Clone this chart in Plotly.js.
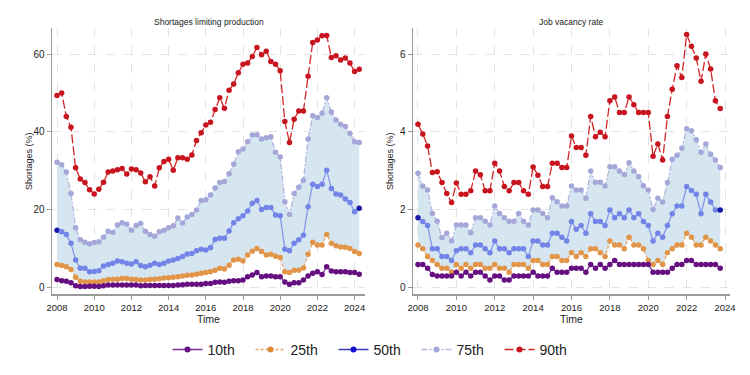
<!DOCTYPE html>
<html>
<head>
<meta charset="utf-8">
<script src="https://cdn.plot.ly/plotly-3.0.1.min.js"></script>
<style>html,body{margin:0;padding:0;background:#fff}#chart{width:750px;height:375px}</style>
</head>
<body>
<div id="chart"></div>
<script>
// ---------- Data (quarterly, values in %) ----------
const panelTitles = ["Shortages limiting production", "Job vacancy rate"];
const legendNames = ["10th", "25th", "50th", "75th", "90th"];
const xTickVals = [2008, 2010, 2012, 2014, 2016, 2018, 2020, 2022, 2024];
const yTickValsL = [0, 20, 40, 60];
const yTickValsR = [0, 2, 4, 6];
const startYear = 2008;

// Left panel: Shortages limiting production, 2008Q1 - 2024Q2
const p10L = [2.1,1.8,1.7,1.3,0.5,0.3,0.3,0.4,0.4,0.3,0.5,0.7,0.7,0.7,0.7,0.7,0.7,0.7,0.5,0.6,0.6,0.6,0.6,0.6,0.6,0.6,0.7,0.8,0.9,0.9,0.9,0.9,1.1,1.1,1.4,1.5,1.4,1.7,1.8,1.8,2.0,2.8,3.3,3.9,2.8,3.0,3.0,2.8,2.8,1.5,0.9,1.3,1.3,2.0,3.0,3.7,4.1,3.4,5.4,4.3,4.1,4.1,4.1,3.9,3.9,3.5];
const p25L = [6.0,5.7,5.4,4.7,2.7,1.7,1.5,1.5,1.5,1.5,1.8,2.1,2.2,2.2,2.4,2.4,2.2,2.1,2.0,2.0,2.1,2.2,2.3,2.5,2.6,2.7,2.8,3.0,3.2,3.3,3.5,3.7,3.9,4.1,4.5,5.0,4.8,5.8,7.1,7.3,6.9,8.4,9.4,10.1,9.3,8.4,8.6,8.1,7.8,4.1,3.9,4.5,4.5,5.1,8.6,11.7,11.0,11.0,13.7,11.4,10.8,10.5,10.4,10.1,9.3,8.8];
const p50L = [14.8,14.4,13.7,11.4,7.1,5.0,5.0,4.1,4.2,4.4,5.6,6.0,6.3,6.9,6.7,6.3,6.1,6.7,5.7,5.4,5.8,6.3,6.0,6.3,6.9,7.1,7.5,8.0,8.7,8.8,9.5,9.9,9.7,10.3,12.4,12.7,12.7,14.6,16.7,17.7,18.5,19.7,21.7,22.4,20.1,20.6,20.6,18.7,18.5,9.9,9.5,11.4,12.3,13.5,20.8,26.6,26.0,26.6,30.2,25.5,24.1,23.8,22.8,21.9,19.5,20.4];
const p75L = [32.2,31.6,29.7,24.2,15.4,12.3,11.7,11.3,11.6,11.8,13.0,14.5,14.2,16.1,16.7,16.3,14.8,16.0,16.5,14.5,13.7,13.2,14.4,14.8,15.4,15.9,17.9,16.6,18.2,18.8,20.0,22.4,22.6,23.8,25.6,27.0,27.3,29.3,31.7,34.9,35.6,37.5,39.2,39.3,38.2,38.5,38.8,34.8,33.6,22.1,18.8,24.2,25.8,27.6,38.2,44.2,43.7,44.8,48.8,45.1,43.1,42.0,41.4,39.7,37.5,37.3];
const p90L = [49.4,50.0,44.0,41.2,30.8,27.9,27.0,25.2,24.1,25.3,27.1,29.7,30.0,30.3,30.6,29.2,30.5,30.3,29.5,27.2,28.5,26.1,30.8,32.4,33.0,30.2,33.4,33.4,33.0,34.1,37.8,39.8,41.8,42.5,45.8,48.8,46.1,50.7,52.3,55.2,57.4,57.7,59.4,61.7,59.8,60.7,58.1,57.4,55.7,42.7,37.3,43.3,45.4,45.4,54.3,63.0,63.6,64.7,64.8,59.1,59.6,58.5,59.0,57.7,55.5,56.1];

// Right panel: Job vacancy rate, 2008Q1 - 2023Q4
const p10R = [0.6,0.6,0.5,0.34,0.3,0.3,0.3,0.3,0.4,0.3,0.4,0.3,0.4,0.4,0.3,0.2,0.3,0.3,0.2,0.2,0.3,0.3,0.3,0.3,0.4,0.3,0.3,0.3,0.5,0.4,0.4,0.4,0.5,0.5,0.5,0.4,0.6,0.5,0.6,0.5,0.6,0.7,0.6,0.6,0.6,0.6,0.6,0.6,0.6,0.4,0.4,0.4,0.4,0.5,0.6,0.6,0.7,0.7,0.6,0.6,0.6,0.6,0.6,0.5];
const p25R = [1.1,1.0,0.8,0.7,0.6,0.5,0.5,0.4,0.6,0.5,0.6,0.5,0.6,0.6,0.5,0.5,0.6,0.5,0.5,0.4,0.6,0.6,0.6,0.5,0.7,0.7,0.6,0.6,0.8,0.8,0.7,0.7,0.9,0.8,0.9,0.8,1.0,1.0,0.9,0.8,1.2,1.1,1.1,1.0,1.3,1.1,1.1,1.0,0.7,0.6,0.7,0.6,0.9,1.0,1.1,1.1,1.4,1.3,1.1,1.1,1.3,1.2,1.1,1.0];
const p50R = [1.8,1.7,1.6,1.0,1.0,0.8,0.8,0.7,0.95,1.0,1.0,0.9,1.1,1.1,1.0,0.9,1.2,1.0,1.0,0.9,1.0,1.0,1.0,0.8,1.2,1.2,1.1,1.1,1.4,1.4,1.3,1.2,1.7,1.5,1.6,1.4,1.9,1.7,1.7,1.6,2.0,1.8,1.9,1.8,2.0,1.8,1.9,1.7,1.6,1.2,1.4,1.3,1.6,1.9,2.1,2.1,2.6,2.5,2.4,1.9,2.4,2.2,2.0,2.0];
const p75R = [2.94,2.61,2.51,1.91,1.71,1.29,1.4,1.21,1.61,1.61,1.61,1.41,1.8,1.8,1.71,1.61,2.1,1.91,1.8,1.71,1.71,1.91,1.71,1.61,2.0,2.0,1.91,1.8,2.31,2.21,2.1,2.1,2.61,2.51,2.51,2.3,3.0,2.71,2.71,2.61,3.11,3.11,3.0,2.91,3.21,3.0,2.85,2.62,2.51,2.01,2.3,2.2,2.7,3.3,3.4,3.58,4.08,4.03,3.8,3.48,3.69,3.43,3.28,3.09];
const p90R = [4.2,3.95,3.64,2.96,2.98,2.7,2.42,2.19,2.69,2.4,2.4,2.49,3.0,2.9,2.49,2.49,3.2,3.0,2.6,2.49,2.7,2.7,2.49,2.4,3.1,2.89,2.6,2.6,3.2,3.2,3.09,3.09,3.9,3.6,3.6,3.4,4.4,3.88,3.99,3.88,4.8,4.9,4.5,4.5,4.9,4.7,4.5,4.5,4.5,3.38,3.69,3.28,4.4,5.1,5.7,5.4,6.5,6.2,5.9,5.3,6.0,5.62,4.8,4.6];

// ---------- Styling ----------
const FONT = "Liberation Sans, Arial, Helvetica, sans-serif";
const styles = [
  {name: legendNames[0], line: {color: "#7a2f96", width: 1.3, dash: "solid"}, marker: "#650f80", legMarker: "#650f80"},
  {name: legendNames[1], line: {color: "#e8a466", width: 1.3, dash: "3px,2px"}, marker: "#e29548", legMarker: "#e08a35"},
  {name: legendNames[2], line: {color: "#8696ec", width: 1.3, dash: "solid"}, marker: "#7384e8", legMarker: "#1010d0", legLine: "#3a3ac0"},
  {name: legendNames[3], line: {color: "#b4b6e2", width: 1.3, dash: "6px,2px,2px,2px"}, marker: "#a4a7d8", legMarker: "#a4a7d8"},
  {name: legendNames[4], line: {color: "#d22424", width: 1.3, dash: "9px,3px"}, marker: "#c8141e", legMarker: "#c8141e"}
];

function quarterTimes(n) {
  const t = [];
  for (let i = 0; i < n; i++) t.push(startYear + i / 4);
  return t;
}

function panelTraces(series, xa, ya) {
  const x = quarterTimes(series[0].length);
  const out = [];
  // band between 25th and 75th
  out.push({x: x, y: series[1], xaxis: xa, yaxis: ya, mode: "lines", line: {width: 0, color: "rgba(0,0,0,0)"}, showlegend: false, hoverinfo: "skip"});
  out.push({x: x, y: series[3], xaxis: xa, yaxis: ya, mode: "lines", line: {width: 0, color: "rgba(0,0,0,0)"}, fill: "tonexty", fillcolor: "#d6e6f0", showlegend: false, hoverinfo: "skip"});
  const order = [3, 4, 1, 2, 0];
  order.forEach(k => {
    const s = styles[k];
    let mcol = s.marker;
    if (k === 2) {
      mcol = series[k].map((v, i) => (i === 0 || i === series[k].length - 1) ? "#1a1aa8" : s.marker);
    }
    out.push({x: x, y: series[k], xaxis: xa, yaxis: ya, mode: "lines+markers", name: s.name,
      line: s.line, marker: {color: mcol, size: 5.5}, showlegend: false});
  });
  return out;
}

let traces = [];
traces = traces.concat(panelTraces([p10L, p25L, p50L, p75L, p90L], "x", "y"));
traces = traces.concat(panelTraces([p10R, p25R, p50R, p75R, p90R], "x2", "y2"));
// legend entries
styles.forEach(s => {
  traces.push({x: [null], y: [null], xaxis: "x", yaxis: "y", mode: "lines+markers", name: s.name,
    line: {color: s.legLine || s.line.color, width: 1.5, dash: s.line.dash}, marker: {color: s.legMarker, size: 6}, showlegend: true});
});

const axisCommon = {
  showline: true, linecolor: "#9a9a9a", linewidth: 1.5,
  ticks: "outside", ticklen: 4, tickcolor: "#9a9a9a", tickwidth: 1,
  showgrid: true, gridcolor: "#e4e4e4", griddash: "dash", gridwidth: 1,
  zeroline: false, tickfont: {family: FONT, size: 10, color: "#222"}, fixedrange: true
};
const yDomain = [1 - 294 / 375, 1 - 28 / 375];

const layout = {
  width: 750, height: 375,
  margin: {l: 0, r: 0, t: 0, b: 0},
  paper_bgcolor: "#ffffff", plot_bgcolor: "#ffffff",
  font: {family: FONT, color: "#222"},
  xaxis: Object.assign({}, axisCommon, {domain: [52 / 750, 365 / 750], range: [2007.73, 2024.56], tickvals: xTickVals, anchor: "y", tickfont: {family: FONT, size: 9.5, color: "#222"}}),
  yaxis: Object.assign({}, axisCommon, {domain: yDomain, range: [-1.6, 66.7], tickvals: yTickValsL, anchor: "x"}),
  xaxis2: Object.assign({}, axisCommon, {domain: [413 / 750, 730 / 750], range: [2007.74, 2024.26], tickvals: xTickVals, anchor: "y2", tickfont: {family: FONT, size: 9.5, color: "#222"}}),
  yaxis2: Object.assign({}, axisCommon, {domain: yDomain, range: [-0.16, 6.67], tickvals: yTickValsR, anchor: "x2"}),
  legend: {orientation: "h", traceorder: "normal", x: 0.5, xanchor: "center", y: 1 - 350 / 375, yanchor: "middle",
    font: {family: FONT, size: 14, color: "#222"}, bgcolor: "rgba(0,0,0,0)", itemwidth: 30,
    entrywidth: 38, entrywidthmode: "pixels"},
  showlegend: true,
  annotations: [
    {text: panelTitles[0], x: 208.5 / 750, y: 1 - 22 / 375, xref: "paper", yref: "paper", showarrow: false, font: {family: FONT, size: 8.5, color: "#222"}, xanchor: "center", yanchor: "middle"},
    {text: panelTitles[1], x: 571.5 / 750, y: 1 - 22 / 375, xref: "paper", yref: "paper", showarrow: false, font: {family: FONT, size: 8.5, color: "#222"}, xanchor: "center", yanchor: "middle"},
    {text: "Time", x: 208.5 / 750, y: 1 - 318.5 / 375, xref: "paper", yref: "paper", showarrow: false, borderpad: 0, font: {family: FONT, size: 10.5, color: "#222"}, xanchor: "center", yanchor: "middle"},
    {text: "Time", x: 571.5 / 750, y: 1 - 318.5 / 375, xref: "paper", yref: "paper", showarrow: false, borderpad: 0, font: {family: FONT, size: 10.5, color: "#222"}, xanchor: "center", yanchor: "middle"},
    {text: "Shortages (%)", x: 29 / 750, y: 1 - 161 / 375, xref: "paper", yref: "paper", showarrow: false, textangle: -90, font: {family: FONT, size: 9, color: "#222"}, xanchor: "center", yanchor: "middle"},
    {text: "Shortages (%)", x: 390 / 750, y: 1 - 161 / 375, xref: "paper", yref: "paper", showarrow: false, textangle: -90, font: {family: FONT, size: 9, color: "#222"}, xanchor: "center", yanchor: "middle"}
  ]
};

Plotly.newPlot("chart", traces, layout, {displayModeBar: false, staticPlot: true});
</script>
</body>
</html>
